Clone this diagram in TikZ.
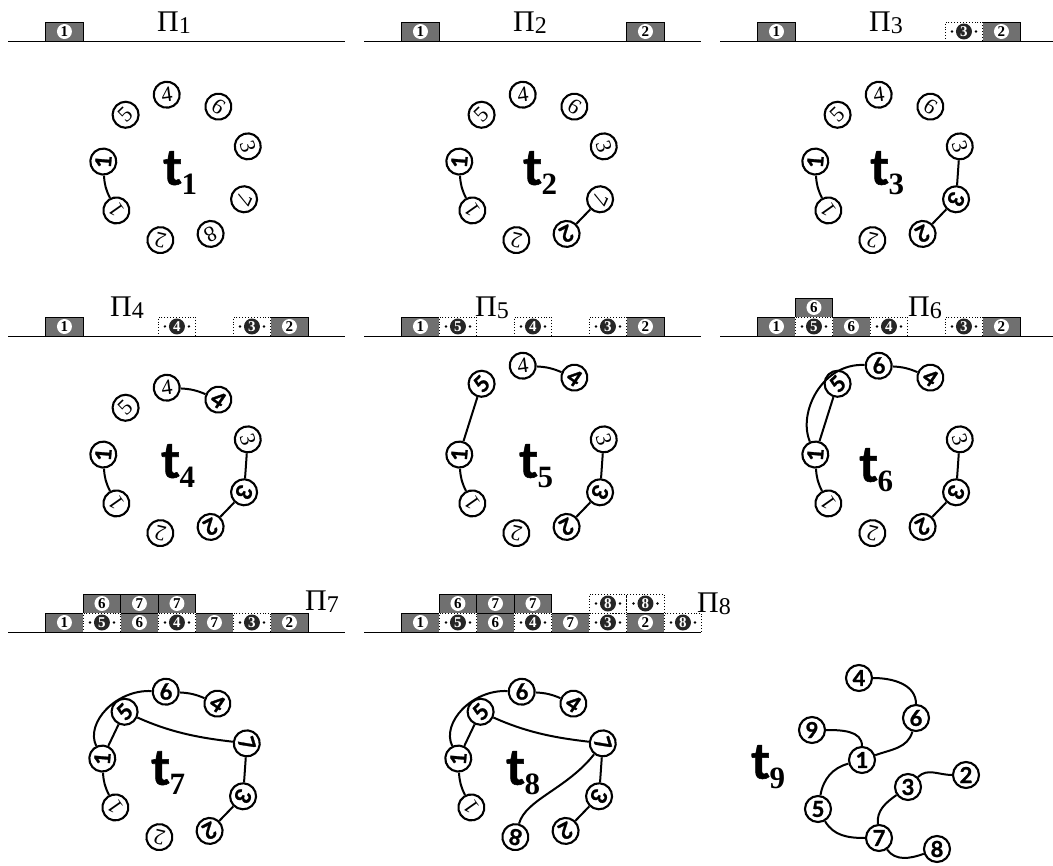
\documentclass[tikz,border=0pt]{standalone}
\usepackage{fontspec}
\setmainfont{Liberation Serif}
\newfontfamily\sansfam{Lato}[BoldFeatures={FakeBold=1.2}]
\definecolor{boxgray}{RGB}{112,112,112}

\begin{document}
\begin{tikzpicture}[x=1pt,y=1pt]
  \tikzset{
    leaf/.style={circle, draw, line width=2.1pt, minimum size=26pt, inner sep=0pt, font=\fontsize{22}{22}\selectfont},
    knot/.style={leaf, font=\sansfam\bfseries\fontsize{22}{22}\selectfont},
    link/.style={line width=2pt},
    base/.style={line width=0.9pt},
    gbox/.style={rectangle, draw, line width=0.8pt, fill=boxgray, minimum width=37.5pt, minimum height=19pt, inner sep=0pt},
    dbox/.style={rectangle, draw, dotted, line width=0.9pt, fill=white, minimum width=37.5pt, minimum height=19pt, inner sep=0pt},
    wdisc/.style={circle, fill=white, minimum size=15pt, inner sep=0pt, font=\bfseries\fontsize{15}{15}\selectfont},
    bdisc/.style={circle, fill=black!85, text=white, minimum size=16pt, inner sep=0pt, font=\bfseries\fontsize{15}{15}\selectfont},
    pdot/.style={circle, fill=black, inner sep=0pt, minimum size=2.6pt}
  }
  \useasboundingbox (0,0) rectangle (1053,-866);

  \newcommand{\ringnode}[5][0]{\node[#5, rotate=#3-90] (#2) at ([yshift=#1pt]#3:74) {#4};}
  \newcommand{\tlabel}[3]{\node (#1) at #2 {\sansfam\bfseries\fontsize{50}{50}\selectfont t\raisebox{-10pt}{\rmfamily\bfseries\fontsize{31}{31}\selectfont #3}};}
  \newcommand{\pilabel}[3]{\node[anchor=base west, inner sep=0pt] (#1) at #2 {\fontsize{30}{30}\selectfont Π\raisebox{-2pt}{\fontsize{24}{24}\selectfont #3}};}
  \newcommand{\stripline}[1]{\draw[base] (-37.7,0) coordinate (#1l) -- (299.3,0) coordinate (#1r);}
  \newcommand{\graycells}[2]{
    \foreach \lab/\k/\lv in {#2} {
      \node[gbox] (#1g\k\lv) at (37.5*\k+18.75, 19*\lv+9.5) {};
      \node[wdisc] (#1w\k\lv) at (#1g\k\lv) {\lab};
    }
  }
  \newcommand{\dotcells}[2]{
    \foreach \lab/\k/\lv in {#2} {
      \node[dbox] (#1d\k\lv) at (37.5*\k+18.75, 19*\lv+9.5) {};
      \node[bdisc] (#1b\k\lv) at (#1d\k\lv) {\lab};
      \node[pdot] (#1p\k\lv) at ([xshift=-12pt]#1d\k\lv.center) {};
      \node[pdot] (#1q\k\lv) at ([xshift=12pt]#1d\k\lv.center) {};
    }
  }

  % strips Pi_1 .. Pi_8
  \begin{scope}[shift={(45.7,-41)}]
    \stripline{s1}
    \graycells{s1}{1/0/0}
  \end{scope}
  \begin{scope}[shift={(401.7,-41)}]
    \stripline{s2}
    \graycells{s2}{1/0/0, 2/6/0}
  \end{scope}
  \begin{scope}[shift={(757.7,-41)}]
    \stripline{s3}
    \graycells{s3}{1/0/0, 2/6/0}
    \dotcells{s3}{3/5/0}
  \end{scope}
  \begin{scope}[shift={(45.7,-336)}]
    \stripline{s4}
    \graycells{s4}{1/0/0, 2/6/0}
    \dotcells{s4}{4/3/0, 3/5/0}
  \end{scope}
  \begin{scope}[shift={(401.7,-336)}]
    \stripline{s5}
    \graycells{s5}{1/0/0, 2/6/0}
    \dotcells{s5}{5/1/0, 4/3/0, 3/5/0}
  \end{scope}
  \begin{scope}[shift={(757.7,-336)}]
    \stripline{s6}
    \graycells{s6}{1/0/0, 6/2/0, 2/6/0, 6/1/1}
    \dotcells{s6}{5/1/0, 4/3/0, 3/5/0}
  \end{scope}
  \begin{scope}[shift={(45.7,-632)}]
    \stripline{s7}
    \graycells{s7}{1/0/0, 6/2/0, 7/4/0, 2/6/0, 6/1/1, 7/2/1, 7/3/1}
    \dotcells{s7}{5/1/0, 4/3/0, 3/5/0}
  \end{scope}
  \begin{scope}[shift={(401.7,-632)}]
    \stripline{s8}
    \graycells{s8}{1/0/0, 6/2/0, 7/4/0, 2/6/0, 6/1/1, 7/2/1, 7/3/1}
    \dotcells{s8}{5/1/0, 4/3/0, 3/5/0, 8/7/0, 8/5/1, 8/6/1}
  \end{scope}

  \pilabel{pi1}{(157,-32)}{1}
  \pilabel{pi2}{(513,-32)}{2}
  \pilabel{pi3}{(869,-32)}{3}
  \pilabel{pi4}{(110,-317)}{4}
  \pilabel{pi5}{(475,-317)}{5}
  \pilabel{pi6}{(908,-317)}{6}
  \pilabel{pi7}{(305,-610)}{7}
  \pilabel{pi8}{(697,-612)}{8}

  % t_1
  \begin{scope}[shift={(177,-168)}]
    \ringnode{t1a}{98}{4}{leaf}
    \ringnode{t1b}{56}{6}{leaf}
    \ringnode{t1c}{17}{3}{leaf}
    \ringnode{t1d}{-25}{7}{leaf}
    \ringnode{t1e}{-63}{8}{leaf}
    \ringnode{t1f}{-103}{2}{leaf}
    \ringnode{t1g}{-145}{1}{leaf}
    \ringnode{t1h}{175}{1}{knot}
    \ringnode{t1i}{134}{5}{leaf}
    \tlabel{t1t}{(3,-5)}{1}
    \draw[link] (t1h) to[bend right=12] (t1g);
  \end{scope}

  % t_2
  \begin{scope}[shift={(533,-168)}]
    \ringnode{t2a}{98}{4}{leaf}
    \ringnode{t2b}{56}{6}{leaf}
    \ringnode{t2c}{17}{3}{leaf}
    \ringnode{t2d}{-25}{7}{leaf}
    \ringnode{t2e}{-63}{2}{knot}
    \ringnode{t2f}{-103}{2}{leaf}
    \ringnode{t2g}{-145}{1}{leaf}
    \ringnode{t2h}{175}{1}{knot}
    \ringnode{t2i}{134}{5}{leaf}
    \tlabel{t2t}{(7,-5)}{2}
    \draw[link] (t2h) to[bend right=12] (t2g);
    \draw[link] (t2e) -- (t2d);
  \end{scope}

  % t_3
  \begin{scope}[shift={(889,-168)}]
    \ringnode{t3a}{98}{4}{leaf}
    \ringnode{t3b}{56}{6}{leaf}
    \ringnode{t3c}{17}{3}{leaf}
    \ringnode{t3d}{-25}{3}{knot}
    \ringnode{t3e}{-63}{2}{knot}
    \ringnode{t3f}{-103}{2}{leaf}
    \ringnode{t3g}{-145}{1}{leaf}
    \ringnode{t3h}{175}{1}{knot}
    \ringnode{t3i}{134}{5}{leaf}
    \tlabel{t3t}{(-2,-5)}{3}
    \draw[link] (t3h) to[bend right=12] (t3g);
    \draw[link] (t3c) -- (t3d);
    \draw[link] (t3d) -- (t3e);
  \end{scope}

  % t_4
  \begin{scope}[shift={(177,-461)}]
    \ringnode{t4a}{98}{4}{leaf}
    \ringnode{t4b}{56}{4}{knot}
    \ringnode{t4c}{17}{3}{leaf}
    \ringnode{t4d}{-25}{3}{knot}
    \ringnode{t4e}{-63}{2}{knot}
    \ringnode{t4f}{-103}{2}{leaf}
    \ringnode{t4g}{-145}{1}{leaf}
    \ringnode{t4h}{175}{1}{knot}
    \ringnode{t4i}{134}{5}{leaf}
    \tlabel{t4t}{(1,-5)}{4}
    \draw[link] (t4h) to[bend right=12] (t4g);
    \draw[link] (t4c) -- (t4d);
    \draw[link] (t4d) -- (t4e);
    \draw[link] (t4a) to[bend left=10] (t4b);
  \end{scope}

  % t_5
  \begin{scope}[shift={(533,-461)}]
    \ringnode[22]{t5a}{98}{4}{leaf}
    \ringnode[22]{t5b}{56}{4}{knot}
    \ringnode{t5c}{17}{3}{leaf}
    \ringnode{t5d}{-25}{3}{knot}
    \ringnode{t5e}{-63}{2}{knot}
    \ringnode{t5f}{-103}{2}{leaf}
    \ringnode{t5g}{-145}{1}{leaf}
    \ringnode{t5h}{175}{1}{knot}
    \ringnode[24]{t5i}{134}{5}{knot}
    \tlabel{t5t}{(3,-5)}{5}
    \draw[link] (t5h) to[bend right=12] (t5g);
    \draw[link] (t5c) -- (t5d);
    \draw[link] (t5d) -- (t5e);
    \draw[link] (t5a) to[bend left=10] (t5b);
    \draw[link] (t5h) -- (t5i);
  \end{scope}

  % t_6
  \begin{scope}[shift={(889,-461)}]
    \ringnode[22]{t6a}{98}{6}{knot}
    \ringnode[22]{t6b}{56}{4}{knot}
    \ringnode{t6c}{17}{3}{leaf}
    \ringnode{t6d}{-25}{3}{knot}
    \ringnode{t6e}{-63}{2}{knot}
    \ringnode{t6f}{-103}{2}{leaf}
    \ringnode{t6g}{-145}{1}{leaf}
    \ringnode{t6h}{175}{1}{knot}
    \ringnode[24]{t6i}{134}{5}{knot}
    \tlabel{t6t}{(-13,-9)}{6}
    \draw[link] (t6h) to[bend right=12] (t6g);
    \draw[link] (t6c) -- (t6d);
    \draw[link] (t6d) -- (t6e);
    \draw[link] (t6a) to[bend left=10] (t6b);
    \draw[link] (t6h) -- (t6i);
    \draw[link] (t6h) to[out=95,in=175] (t6a);
  \end{scope}

  % t_7
  \begin{scope}[shift={(176,-765)}]
    \ringnode{t7a}{98}{6}{knot}
    \ringnode{t7b}{56}{4}{knot}
    \ringnode{t7c}{17}{7}{knot}
    \ringnode{t7d}{-25}{3}{knot}
    \ringnode{t7e}{-63}{2}{knot}
    \ringnode{t7f}{-103}{2}{leaf}
    \ringnode{t7g}{-145}{1}{leaf}
    \ringnode{t7h}{175}{1}{knot}
    \ringnode{t7i}{134}{5}{knot}
    \tlabel{t7t}{(-8,-8)}{7}
    \draw[link] (t7h) to[bend right=12] (t7g);
    \draw[link] (t7c) -- (t7d);
    \draw[link] (t7d) -- (t7e);
    \draw[link] (t7a) to[bend left=10] (t7b);
    \draw[link] (t7h) -- (t7i);
    \draw[link] (t7h) to[out=95,in=175] (t7a);
    \draw[link] (t7i) to[out=-35,in=190] (t7c);
  \end{scope}

  % t_8
  \begin{scope}[shift={(532,-765)}]
    \ringnode{t8a}{98}{6}{knot}
    \ringnode{t8b}{56}{4}{knot}
    \ringnode{t8c}{17}{7}{knot}
    \ringnode{t8d}{-25}{3}{knot}
    \ringnode{t8e}{-63}{2}{knot}
    \ringnode{t8f}{-103}{8}{knot}
    \ringnode{t8g}{-145}{1}{leaf}
    \ringnode{t8h}{175}{1}{knot}
    \ringnode{t8i}{134}{5}{knot}
    \tlabel{t8t}{(-9,-8)}{8}
    \draw[link] (t8h) to[bend right=12] (t8g);
    \draw[link] (t8c) -- (t8d);
    \draw[link] (t8d) -- (t8e);
    \draw[link] (t8a) to[bend left=10] (t8b);
    \draw[link] (t8h) -- (t8i);
    \draw[link] (t8h) to[out=95,in=175] (t8a);
    \draw[link] (t8i) to[out=-35,in=190] (t8c);
    \draw[link] (t8c) to[out=-115,in=70] (t8f);
  \end{scope}

  % t_9
  \node[knot] (n4) at (859,-678) {4};
  \node[knot] (n6) at (916,-718) {6};
  \node[knot] (n9) at (812,-730) {9};
  \node[knot] (n1) at (862,-760) {1};
  \node[knot] (n3) at (908,-787) {3};
  \node[knot] (n2) at (966,-775) {2};
  \node[knot] (n5) at (818,-809) {5};
  \node[knot] (n7) at (879,-838) {7};
  \node[knot] (n8) at (937,-849) {8};
  \tlabel{t9t}{(768,-767)}{9}
  \draw[link] (n4) to[out=0,in=90] (n6);
  \draw[link] (n6) to[out=-105,in=20] (n1);
  \draw[link] (n9) to[out=0,in=90] (n1);
  \draw[link] (n1) to[out=195,in=80] (n5);
  \draw[link] (n5) to[out=-60,in=180] (n7);
  \draw[link] (n7) to[out=95,in=215] (n3);
  \draw[link] (n3) to[out=45,in=180] (n2);
  \draw[link] (n7) to[out=-55,in=200] (n8);
\end{tikzpicture}
\end{document}
